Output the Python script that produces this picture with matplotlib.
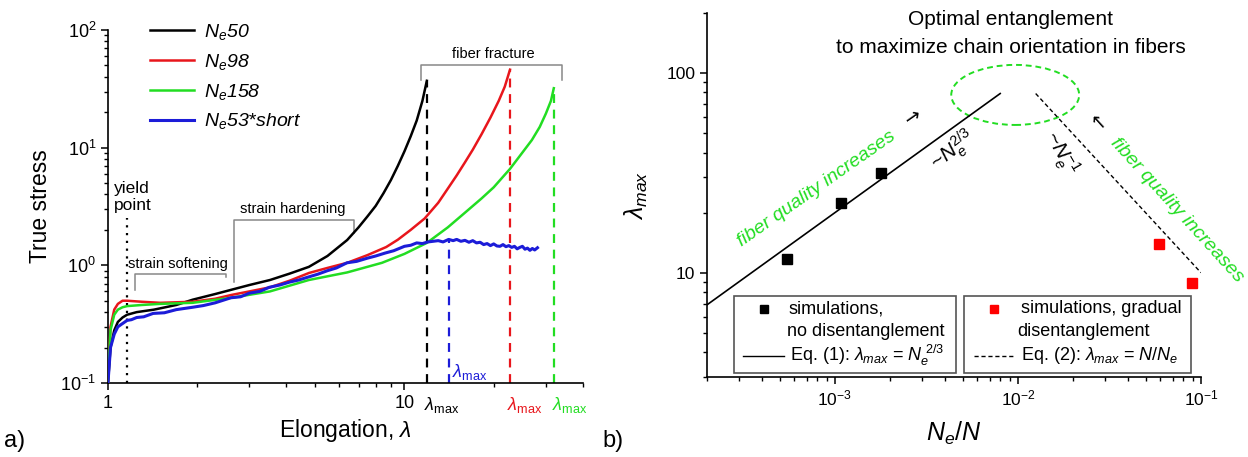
import numpy as np
import matplotlib
matplotlib.use('Agg')
import matplotlib.pyplot as plt
from matplotlib import patches
from matplotlib.ticker import NullFormatter, LogLocator

plt.rcParams['font.family'] = ['Liberation Sans', 'DejaVu Sans']
plt.rcParams['mathtext.fontset'] = 'custom'
plt.rcParams['mathtext.rm'] = 'Liberation Sans'
plt.rcParams['mathtext.it'] = 'Liberation Sans:italic'
plt.rcParams['mathtext.bf'] = 'Liberation Sans:bold'

GREEN = '#22dd22'
RED = '#e8161c'
BLUE = '#1c1cd8'

# ---- panel a: stress-strain curves ----
lam_50 = [1.0, 1.02, 1.05, 1.08, 1.12, 1.16, 1.25, 1.43, 1.7, 1.93, 2.3, 2.61, 3.0, 3.52, 4.1,
          4.76, 5.5, 6.41, 7.0, 7.5, 8.0, 8.5, 9.0, 9.5, 10.0, 10.5, 11.0, 11.5, 11.9]
sig_50 = [0.1, 0.2, 0.28, 0.33, 0.36, 0.38, 0.4, 0.42, 0.46, 0.51, 0.57, 0.62, 0.68, 0.75, 0.85,
          0.97, 1.2, 1.64, 2.1, 2.6, 3.2, 4.1, 5.3, 7.0, 9.3, 12.5, 17, 25, 37]

lam_98 = [1.0, 1.02, 1.05, 1.08, 1.12, 1.16, 1.3, 1.5, 1.93, 2.3, 2.61, 3.0, 3.52, 4.1, 4.76,
          5.5, 6.41, 7.5, 8.68, 9.5, 10.5, 11.7, 13.0, 14.1, 15.0, 16.0, 17.0, 18.2, 19.5, 20.8,
          21.8, 22.7]
sig_98 = [0.1, 0.3, 0.42, 0.47, 0.5, 0.5, 0.49, 0.48, 0.49, 0.52, 0.56, 0.6, 0.65, 0.74, 0.86,
          0.95, 1.05, 1.22, 1.43, 1.65, 2.0, 2.5, 3.4, 4.6, 5.8, 7.5, 9.6, 13, 18, 25, 33, 46]

lam_158 = [1.0, 1.02, 1.05, 1.08, 1.12, 1.16, 1.3, 1.5, 1.93, 2.61, 3.52, 4.76, 6.41, 8.4, 10.0,
           11.9, 14.0, 16.0, 18.2, 20.0, 22.7, 24.5, 26.9, 28.6, 30.0, 31.2, 31.9]
sig_158 = [0.1, 0.28, 0.38, 0.42, 0.44, 0.45, 0.46, 0.47, 0.48, 0.53, 0.6, 0.75, 0.87, 1.05, 1.25,
           1.55, 2.1, 2.8, 3.7, 4.6, 6.6, 8.5, 11.6, 15, 19.5, 25, 32]

lam_53s = [1.0, 1.02, 1.05, 1.08, 1.12, 1.16, 1.2, 1.25, 1.32, 1.42, 1.55, 1.7, 1.93, 2.1, 2.3,
           2.6, 2.8, 3.0, 3.25, 3.5, 3.8, 4.1, 4.4, 4.7, 5.1, 5.5, 5.9, 6.4, 6.9, 7.5, 8.0, 8.6,
           9.2, 10.0, 10.5, 11.0, 11.5, 12.0, 12.5, 13.0, 13.5, 14.1, 14.6, 15.0, 15.5, 16.0,
           16.5, 17.0, 17.5, 18.0, 18.5, 19.0, 19.5, 20.0, 20.5, 21.0, 21.5, 22.0, 22.5, 23.0,
           23.5, 24.0, 24.5, 25.0, 25.5, 26.0, 26.5, 27.0, 27.5, 28.1]
sig_53s = [0.1, 0.2, 0.26, 0.3, 0.32, 0.34, 0.345, 0.36, 0.365, 0.39, 0.395, 0.42, 0.44, 0.455,
           0.48, 0.53, 0.54, 0.58, 0.6, 0.65, 0.68, 0.72, 0.75, 0.79, 0.84, 0.9, 0.95, 1.05, 1.08,
           1.15, 1.2, 1.27, 1.33, 1.45, 1.48, 1.55, 1.53, 1.58, 1.6, 1.62, 1.58, 1.66, 1.62, 1.66,
           1.6, 1.63, 1.57, 1.62, 1.55, 1.57, 1.5, 1.53, 1.47, 1.52, 1.46, 1.45, 1.5, 1.44, 1.47,
           1.42, 1.45, 1.38, 1.42, 1.45, 1.37, 1.4, 1.34, 1.39, 1.35, 1.41]

labels_a = [r'$N_e$50', r'$N_e$98', r'$N_e$158', r'$N_e$53*short']
colors_a = ['black', RED, GREEN, BLUE]

# fracture points (lambda_max) and their stress
lmax_lam = [11.9, 22.7, 31.9, 14.1]
lmax_sig = [37, 46, 32, 1.65]

# ---- panel b: lambda_max vs Ne/N ----
x_black = [5.5e-4, 1.08e-3, 1.78e-3]
y_black = [11.7, 22.4, 31.6]
x_red = [0.0587, 0.0897]
y_red = [14.0, 8.9]
eq1_x = [2e-4, 8e-3]
eq1_y = [6.9, 79]
eq2_x = [0.0125, 0.1]
eq2_y = [79, 10]

fig = plt.figure(figsize=(12.48, 4.57), dpi=100)

# ===================== panel a =====================
ax = fig.add_axes([0.0865, 0.162, 0.3806, 0.7724])
for lam, sig, lab, c in zip([lam_50, lam_98, lam_158, lam_53s], [sig_50, sig_98, sig_158, sig_53s],
                            labels_a, colors_a):
    ax.plot(lam, sig, color=c, lw=1.8 if c != BLUE else 2.2, label=lab, zorder=3)

for xl, yl, c in zip(lmax_lam, lmax_sig, ['black', RED, GREEN, BLUE]):
    ax.plot([xl, xl], [0.1, yl], color=c, lw=1.6, ls=(0, (4, 3)), zorder=2)

ax.set_xscale('log')
ax.set_yscale('log')
ax.set_xlim(1, 40)
ax.set_ylim(0.1, 100)
ax.set_xticks([1, 10], ['1', '10'])
ax.xaxis.set_minor_locator(LogLocator(base=10, subs=np.arange(2, 10)))
ax.xaxis.set_minor_formatter(NullFormatter())
ax.yaxis.set_minor_formatter(NullFormatter())
for s in ['top', 'right']:
    ax.spines[s].set_visible(False)
for s in ['left', 'bottom']:
    ax.spines[s].set_linewidth(1.2)
ax.tick_params(which='major', direction='out', length=5, width=1.1, labelsize=13)
ax.tick_params(which='minor', direction='out', length=3, width=1)
ax.set_xlabel(r'Elongation, $\lambda$', fontsize=16.5, labelpad=4)
ax.set_ylabel('True stress', fontsize=16.5, labelpad=6)

ax.legend(loc='upper left', bbox_to_anchor=(0.088, 1.022), frameon=False,
          prop={'size': 14, 'style': 'italic'},
          handlelength=2.3, handletextpad=0.5, labelspacing=0.5, borderpad=0, borderaxespad=0)

# yield point
ax.plot([1.155, 1.155], [0.1, 2.5], color='black', lw=1.6, ls=(0, (1, 2.5)))
ax.text(1.05, 3.8, 'yield\npoint', fontsize=12.5, ha='left', va='center', linespacing=1.1)

# brackets
gray = '#888888'
ax.plot([1.235, 1.235, 2.51, 2.51], [0.62, 0.85, 0.85, 0.79], color=gray, lw=1.1)
ax.text(1.727, 0.9, 'strain softening', fontsize=10.5, ha='center', va='bottom')
ax.plot([2.66, 2.66, 6.76, 6.76], [0.72, 2.42, 2.42, 1.88], color=gray, lw=1.1)
ax.text(4.2, 2.62, 'strain hardening', fontsize=10.5, ha='center', va='bottom')
ax.plot([11.4, 11.4, 34.1, 34.1], [37.5, 50.3, 50.3, 37.5], color=gray, lw=1.1)
ax.text(20, 55, 'fiber fracture', fontsize=10.5, ha='center', va='bottom')

# lambda_max labels
tr = ax.get_xaxis_transform()
ax.text(13.4, -0.062, r'$\lambda_{\rm max}$', color='black', fontsize=13, ha='center', va='center', transform=tr)
ax.text(25.5, -0.062, r'$\lambda_{\rm max}$', color=RED, fontsize=13, ha='center', va='center', transform=tr)
ax.text(36.0, -0.062, r'$\lambda_{\rm max}$', color=GREEN, fontsize=13, ha='center', va='center', transform=tr)
ax.text(16.6, 0.03, r'$\lambda_{\rm max}$', color=BLUE, fontsize=13, ha='center', va='center', transform=tr)

fig.text(0.003, 0.035, 'a)', fontsize=17, ha='left', va='center')

# ===================== panel b =====================
bx = fig.add_axes([0.5665, 0.175, 0.3958, 0.7965])
bx.plot(eq1_x, eq1_y, color='black', lw=1.2)
bx.plot(eq2_x, eq2_y, color='black', lw=1.0, ls=(0, (3, 2)))
bx.plot(x_black, y_black, 's', color='black', ms=6.5)
bx.plot(x_red, y_red, 's', color='red', ms=6.5)
bx.set_xscale('log')
bx.set_yscale('log')
bx.set_xlim(2e-4, 0.1)
bx.set_ylim(3, 200)
bx.set_xticks([1e-3, 1e-2, 1e-1], [r'$10^{-3}$', r'$10^{-2}$', r'$10^{-1}$'])
bx.set_yticks([10, 100], ['10', '100'])
bx.xaxis.set_minor_formatter(NullFormatter())
bx.yaxis.set_minor_formatter(NullFormatter())
for s in ['top', 'right']:
    bx.spines[s].set_visible(False)
for s in ['left', 'bottom']:
    bx.spines[s].set_linewidth(1.2)
bx.tick_params(which='major', direction='out', length=5, width=1.1, labelsize=12.5)
bx.tick_params(which='minor', direction='out', length=3, width=1)
bx.set_xlabel(r'$N_e/N$', fontsize=18, labelpad=8)
bx.set_ylabel(r'$\lambda_{max}$', fontsize=18, labelpad=12)

bx.add_patch(patches.Ellipse((0.624, 0.775), 0.259, 0.165, transform=bx.transAxes, fill=False,
                             edgecolor=GREEN, lw=1.4, ls=(0, (3, 2))))
bx.text(0.615, 0.981, 'Optimal entanglement', fontsize=15, ha='center', va='center', transform=bx.transAxes)
bx.text(0.615, 0.904, 'to maximize chain orientation in fibers', fontsize=15, ha='center', va='center',
        transform=bx.transAxes)

bx.text(0.221, 0.516, 'fiber quality increases', color=GREEN, fontsize=14, style='italic',
        rotation=35, rotation_mode='anchor', ha='center', va='center', transform=bx.transAxes)
bx.text(0.417, 0.714, '\u2192', color='black', fontsize=14, family='DejaVu Sans', rotation=35,
        rotation_mode='anchor', ha='center', va='center', transform=bx.transAxes)
bx.text(0.951, 0.459, 'fiber quality increases', color=GREEN, fontsize=14, style='italic',
        rotation=-47.7, rotation_mode='anchor', ha='center', va='center', transform=bx.transAxes,
        clip_on=False)
bx.text(0.789, 0.698, '\u2190', color='black', fontsize=14, family='DejaVu Sans', rotation=-47.7,
        rotation_mode='anchor', ha='center', va='center', transform=bx.transAxes)
bx.text(0.498, 0.624, r'~$N_e^{\mathit{2/3}}$', fontsize=15, rotation=38, rotation_mode='anchor',
        ha='center', va='center', transform=bx.transAxes)
bx.text(0.715, 0.615, r'~$N_e^{\mathit{-1}}$', fontsize=15, rotation=-60, rotation_mode='anchor',
        ha='center', va='center', transform=bx.transAxes)

# legend boxes
for x0, x1 in [(0.0537, 0.504), (0.521, 0.980)]:
    bx.add_patch(patches.Rectangle((x0, 0.011), x1 - x0, 0.2115, transform=bx.transAxes,
                                   facecolor='white', edgecolor='#555555', lw=1.2, zorder=4))
bx.plot([0.1164], [0.187], 's', color='black', ms=5.5, transform=bx.transAxes, zorder=5)
bx.text(0.166, 0.187, 'simulations,', fontsize=13, va='center', transform=bx.transAxes, zorder=5)
bx.text(0.1615, 0.124, 'no disentanglement', fontsize=13, va='center', transform=bx.transAxes, zorder=5)
bx.plot([0.072, 0.156], [0.058, 0.058], color='black', lw=1.0, transform=bx.transAxes, zorder=5)
bx.text(0.168, 0.058, r'Eq. (1): $\lambda_{max}$ = $N_e^{\ \mathit{2/3}}$', fontsize=13, va='center',
        transform=bx.transAxes, zorder=5)
bx.plot([0.5806], [0.187], 's', color='red', ms=5.5, transform=bx.transAxes, zorder=5)
bx.text(0.635, 0.187, 'simulations, gradual', fontsize=13, va='center', transform=bx.transAxes, zorder=5)
bx.text(0.6275, 0.124, 'disentanglement', fontsize=13, va='center', transform=bx.transAxes, zorder=5)
bx.plot([0.5405, 0.6225], [0.058, 0.058], color='black', lw=1.0, ls=(0, (3, 2)), transform=bx.transAxes,
        zorder=5)
bx.text(0.635, 0.058, r'Eq. (2): $\lambda_{max}$ = $N/N_e$', fontsize=13, va='center',
        transform=bx.transAxes, zorder=5)

fig.text(0.483, 0.035, 'b)', fontsize=17, ha='left', va='center')

fig.savefig('out.png', dpi=100)
